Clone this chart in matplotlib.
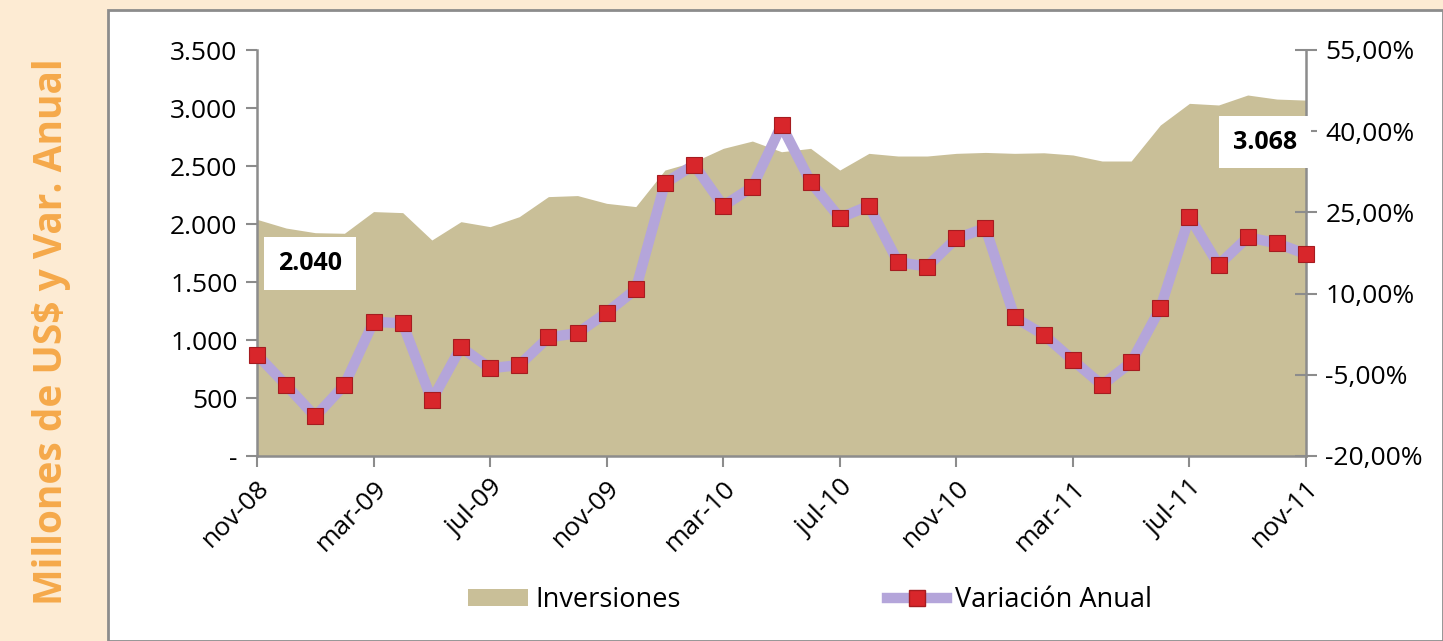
import matplotlib
matplotlib.use("Agg")
import matplotlib.pyplot as plt
from matplotlib.patches import Rectangle, Patch
from matplotlib.lines import Line2D
from matplotlib.ticker import FuncFormatter
import numpy as np

# ── data ─────────────────────────────────────────
months = [
    "nov-08", "dic-08", "ene-09", "feb-09", "mar-09", "abr-09", "may-09",
    "jun-09", "jul-09", "ago-09", "sep-09", "oct-09", "nov-09", "dic-09",
    "ene-10", "feb-10", "mar-10", "abr-10", "may-10", "jun-10", "jul-10",
    "ago-10", "sep-10", "oct-10", "nov-10", "dic-10", "ene-11", "feb-11",
    "mar-11", "abr-11", "may-11", "jun-11", "jul-11", "ago-11", "sep-11",
    "oct-11", "nov-11",
]
inversiones = [
    2040, 1965, 1925, 1920, 2107, 2098, 1862, 2020, 1977, 2063, 2236, 2245,
    2178, 2150, 2465, 2537, 2652, 2715, 2623, 2652, 2465, 2609, 2586, 2586,
    2609, 2617, 2609, 2614, 2595, 2543, 2543, 2853, 3040, 3026, 3112, 3077,
    3068,
]
variacion = [
    -1.3, -6.9, -12.7, -6.9, 4.8, 4.5, -9.7, 0.1, -3.8, -3.2, 1.9, 2.7,
    6.5, 10.8, 30.4, 33.8, 26.2, 29.7, 41.1, 30.6, 24.0, 26.2, 15.8, 15.0,
    20.2, 22.1, 5.6, 2.4, -2.3, -6.9, -2.7, 7.3, 24.2, 15.3, 20.4, 19.3,
    17.3,
]
left_ticks = [0, 500, 1000, 1500, 2000, 2500, 3000, 3500]
right_ticks = [-20, -5, 10, 25, 40, 55]

# ── style ────────────────────────────────────────
W, H = 1443, 641
PEACH = "#FDEBD3"
TAN = "#C9BF98"
LAVENDER = "#B4A5DA"
RED = "#D8262B"
GRAY = "#8C8C8C"
FONT = "Open Sans"

plt.rcParams["font.family"] = [FONT, "DejaVu Sans"]

fig = plt.figure(figsize=(W / 100, H / 100), dpi=100, facecolor=PEACH)
fig.patches.append(Rectangle((108 / W, 0), 1 - 108 / W, 1 - 10 / H,
                             transform=fig.transFigure, facecolor="white",
                             edgecolor=GRAY, linewidth=2, zorder=-5))

ax = fig.add_axes([257 / W, 1 - 456 / H, (1306 - 257) / W, (456 - 50) / H])
ax.set_facecolor("none")
x = np.arange(len(months))

ax.fill_between(x, inversiones, color=TAN, linewidth=0, zorder=1)
ax.set_xlim(0, len(months) - 1)
ax.set_ylim(0, 3500)
ax.set_yticks(left_ticks)
ax.yaxis.set_major_formatter(FuncFormatter(
    lambda v, p: "-" if v == 0 else f"{int(v):,}".replace(",", ".")))
ax.set_xticks(x[::4])
ax.set_xticklabels(months[::4], rotation=45, ha="right",
                   rotation_mode="anchor", fontsize=19)

for s in ("top", "right"):
    ax.spines[s].set_visible(False)
for s in ("left", "bottom"):
    ax.spines[s].set_color(GRAY)
    ax.spines[s].set_linewidth(1.8)
ax.tick_params(axis="y", colors=GRAY, labelcolor="black", labelsize=19,
               length=8, width=1.5, pad=6)
ax.tick_params(axis="x", colors=GRAY, labelcolor="black", length=8,
               width=1.5, pad=6)

ax2 = ax.twinx()
ax2.plot(x, variacion, color=LAVENDER, linewidth=7.5, marker="s",
         markersize=11, markerfacecolor=RED, markeredgecolor="#A51C20",
         markeredgewidth=0.8, clip_on=False, zorder=3)
ax2.set_ylim(-20, 55)
ax2.set_yticks(right_ticks)
ax2.yaxis.set_major_formatter(FuncFormatter(
    lambda v, p: f"{v:.2f}".replace(".", ",") + "%"))
for s in ("top", "left", "bottom"):
    ax2.spines[s].set_visible(False)
ax2.spines["right"].set_color(GRAY)
ax2.spines["right"].set_linewidth(1.8)
ax2.tick_params(axis="y", colors=GRAY, labelcolor="black", labelsize=19,
                direction="inout", length=16, width=1.5, pad=6)

# data labels on first and last point
box = dict(boxstyle="square,pad=0.55", facecolor="white", edgecolor="none")
ax2.annotate(f"{inversiones[0]:,}".replace(",", "."),
             xy=(0, inversiones[0]), xycoords=ax.transData,
             xytext=(53, -44), textcoords="offset pixels",
             ha="center", va="center", fontsize=18, fontweight="bold",
             bbox=box, zorder=10, annotation_clip=False)
ax2.annotate(f"{inversiones[-1]:,}".replace(",", "."),
             xy=(len(months) - 1, inversiones[-1]), xycoords=ax.transData,
             xytext=(-41, -42), textcoords="offset pixels",
             ha="center", va="center", fontsize=18, fontweight="bold",
             bbox=box, zorder=10, annotation_clip=False)

fig.text(52 / W, 1 - 332 / H, "Millones de US$ y Var. Anual", rotation=90,
         ha="center", va="center", color="#F5A94A", fontsize=28,
         fontweight="bold")

handles = [
    Patch(facecolor=TAN, edgecolor="none"),
    Line2D([0], [0], color=LAVENDER, linewidth=7.5, marker="s", markersize=11,
           markerfacecolor=RED, markeredgecolor="#A51C20"),
]
fig.legend(handles, ["Inversiones", "Variación Anual"], loc="center",
           bbox_to_anchor=(810 / W, 1 - 600 / H), ncol=2, frameon=False,
           fontsize=19.5, columnspacing=7.6, handlelength=2.2,
           handletextpad=0.3, handleheight=0.6)

fig.savefig("out.png", dpi=100, facecolor=PEACH)
